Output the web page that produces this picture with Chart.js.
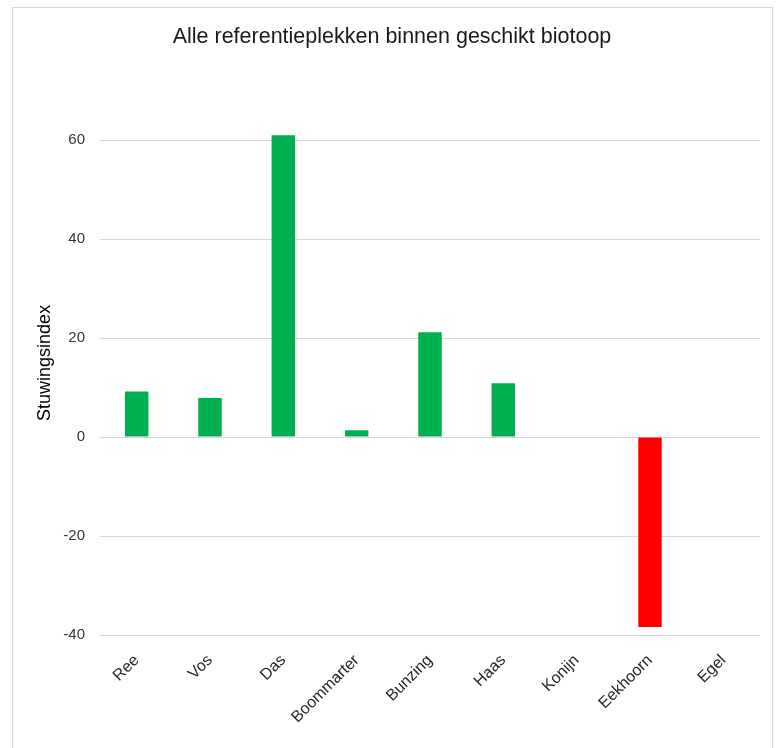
<!DOCTYPE html>
<html>
<head>
<meta charset="utf-8">
<script src="https://cdn.jsdelivr.net/npm/chart.js@4"></script>
<style>
  html, body { margin: 0; padding: 0; background: #fff; }
  #frame { position: absolute; left: 12px; top: 7px; width: 761px; height: 760px; border: 1px solid #d9d9d9; box-sizing: border-box; }
  #wrap { position: absolute; left: 0; top: 0; width: 780px; height: 748px; }
</style>
</head>
<body>
<div id="frame"></div>
<div id="wrap"><canvas id="chart"></canvas></div>
<script>
// ===== data =====
const species = ['Ree', 'Vos', 'Das', 'Boommarter', 'Bunzing', 'Haas', 'Konijn', 'Eekhoorn', 'Egel'];
const stuwingsindex = [9.2, 7.9, 61, 1.4, 21.2, 10.9, 0, -38.4, 0];
const yTicks = [-40, -20, 0, 20, 40, 60];

const GREEN = '#00b050';
const RED   = '#ff0000';
const GRID  = '#d9d9d9';
const FONT  = 'Liberation Sans';

new Chart(document.getElementById('chart'), {
  type: 'bar',
  data: {
    labels: species,
    datasets: [{
      data: stuwingsindex,
      backgroundColor: stuwingsindex.map(v => v < 0 ? RED : GREEN),
      borderWidth: 0,
      barPercentage: 0.64,
      categoryPercentage: 0.5,
    }],
  },
  options: {
    responsive: true,
    maintainAspectRatio: false,
    animation: false,
    layout: { padding: { top: 1, right: 20, bottom: 0, left: 24 } },
    plugins: {
      legend: { display: false },
      tooltip: { enabled: false },
      title: {
        display: true,
        text: 'Alle referentieplekken binnen geschikt biotoop',
        color: '#1a1a1a',
        font: { family: FONT, size: 21.5, weight: 'normal' },
        padding: { top: 23, bottom: 41 },
      },
    },
    scales: {
      x: {
        grid: { display: false, drawTicks: false },
        border: { display: false },
        ticks: {
          color: '#262626',
          font: { family: FONT, size: 16 },
          minRotation: 45, maxRotation: 45,
          padding: 16,
        },
        afterFit: s => { s.height = 113; },
      },
      y: {
        min: -40,
        max: 70,
        grid: { color: GRID, drawTicks: false },
        border: { display: false },
        ticks: {
          stepSize: 20,
          color: '#333333',
          font: { family: FONT, size: 15 },
          padding: 15,
        },
        afterBuildTicks: s => { s.ticks = yTicks.map(v => ({ value: v })); },
        afterFit: s => { s.width = 76; },
        title: {
          display: true,
          text: 'Stuwingsindex',
          color: '#000',
          font: { family: FONT, size: 18 },
          padding: { top: 10, bottom: 0 },
        },
      },
    },
  },
});
</script>
</body>
</html>
